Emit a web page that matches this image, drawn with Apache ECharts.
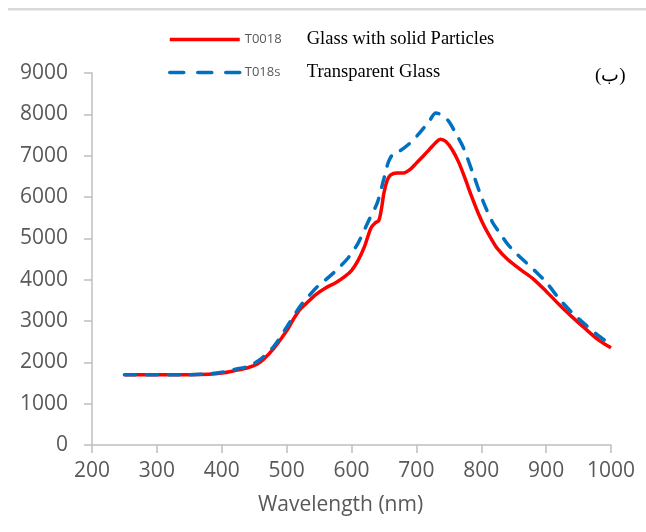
<!DOCTYPE html>
<html>
<head>
<meta charset="utf-8">
<script src="https://cdn.jsdelivr.net/npm/echarts@6/dist/echarts.min.js"></script>
<style>
  html, body { margin: 0; padding: 0; background: #fff; }
  #chart { width: 646px; height: 532px; }
</style>
</head>
<body>
<div id="chart"></div>
<script>
// Emission spectra: wavelength (nm) vs intensity
var wlSolid = [250, 300, 350, 380, 400, 420, 440, 455, 465, 480, 490, 500, 510, 520, 530, 545, 560, 575, 590, 600, 610, 620, 630, 637, 642, 646, 650, 655, 660, 670, 680, 690, 700, 710, 720, 730, 737, 745, 755, 765, 775, 785, 795, 805, 815, 825, 840, 860, 880, 900, 920, 940, 960, 980, 1000];
var valSolid = [1700, 1700, 1700, 1710, 1740, 1800, 1870, 1960, 2080, 2330, 2540, 2760, 3030, 3270, 3420, 3640, 3800, 3920, 4080, 4220, 4460, 4800, 5250, 5380, 5430, 5700, 6100, 6400, 6530, 6580, 6580, 6660, 6820, 6980, 7150, 7320, 7400, 7350, 7150, 6850, 6450, 6020, 5620, 5280, 5000, 4750, 4500, 4250, 4020, 3720, 3400, 3100, 2820, 2550, 2350];

var wlClear = [250, 300, 350, 380, 400, 420, 440, 460, 480, 500, 520, 535, 550, 565, 580, 595, 610, 625, 640, 650, 657, 665, 675, 690, 705, 720, 730, 740, 750, 760, 772, 787, 802, 818, 830, 840, 855, 870, 885, 900, 920, 940, 960, 980, 1000];
var valClear = [1700, 1700, 1700, 1720, 1760, 1830, 1900, 2080, 2380, 2850, 3340, 3620, 3870, 4060, 4280, 4530, 4880, 5380, 5870, 6450, 6850, 7060, 7120, 7300, 7550, 7840, 8030, 7980, 7830, 7560, 7210, 6580, 5930, 5370, 5100, 4870, 4620, 4400, 4180, 3940, 3540, 3200, 2920, 2650, 2430];

var seriesCodes = ['T0018', 'T018s'];
var seriesNames = ['Glass with solid Particles', 'Transparent Glass'];
var xTicks = [200, 1000, 100];
var yTicks = [0, 9000, 1000];

function pairs(xs, ys) {
  return xs.map(function (x, i) { return [x, ys[i]]; });
}

var chart = echarts.init(document.getElementById('chart'), null, { renderer: 'canvas' });
var axisGray = '#BFBFBF';
var labelGray = '#595959';
var plainNumber = function (v) { return String(v); };

chart.setOption({
  backgroundColor: '#fff',
  animation: false,
  grid: { left: 92, right: 35, top: 73, bottom: 87, containLabel: false },
  legend: {
    orient: 'vertical',
    left: 163,
    top: 25,
    itemWidth: 70,
    itemHeight: 20,
    itemGap: 14,
    data: [
      { name: seriesCodes[0] },
      { name: seriesCodes[1], lineStyle: { type: [14, 14] } }
    ],
    itemStyle: { opacity: 0 },
    lineStyle: { width: 3.5 },
    formatter: function (name) {
      var i = seriesCodes.indexOf(name);
      return '{a|' + name + '}{b|' + seriesNames[i] + '}';
    },
    textStyle: {
      rich: {
        a: { fontFamily: 'Open Sans', fontSize: 13, color: labelGray, width: 62 },
        b: { fontFamily: 'Liberation Serif', fontSize: 18.5, color: '#000' }
      }
    }
  },
  xAxis: {
    type: 'value',
    min: xTicks[0], max: xTicks[1], interval: xTicks[2],
    name: 'Wavelength (nm)',
    nameLocation: 'middle',
    nameGap: 50,
    nameTextStyle: { fontFamily: 'Open Sans', fontSize: 21, color: labelGray, padding: [0, 22, 0, 0] },
    axisLine: { lineStyle: { color: axisGray, width: 1.5 } },
    axisTick: { show: true, length: 8, lineStyle: { color: axisGray, width: 1.5 } },
    axisLabel: { margin: 16, fontFamily: 'Open Sans', fontSize: 21, color: labelGray, formatter: plainNumber },
    splitLine: { show: false }
  },
  yAxis: {
    type: 'value',
    min: yTicks[0], max: yTicks[1], interval: yTicks[2],
    axisLine: { show: true, lineStyle: { color: axisGray, width: 1.5 } },
    axisTick: { show: true, length: 8, lineStyle: { color: axisGray, width: 1.5 } },
    axisLabel: { margin: 24, fontFamily: 'Open Sans', fontSize: 21, color: labelGray, formatter: plainNumber },
    splitLine: { show: false }
  },
  graphic: [
    {
      type: 'rect',
      shape: { x: 8, y: 8, width: 646, height: 2.5 },
      style: { fill: '#D9D9D9' },
      silent: true
    },
    {
      type: 'text',
      left: 595, top: 67,
      style: { text: '(ب)', fontFamily: 'Liberation Serif, DejaVu Serif, serif', fontSize: 19, fill: '#000' }
    }
  ],
  series: [
    {
      name: seriesCodes[0],
      type: 'line',
      data: pairs(wlSolid, valSolid),
      smooth: 0.3,
      symbol: 'none',
      z: 2,
      lineStyle: { color: '#FF0000', width: 3.5 },
      itemStyle: { color: '#FF0000' }
    },
    {
      name: seriesCodes[1],
      type: 'line',
      data: pairs(wlClear, valClear),
      smooth: 0.3,
      symbol: 'none',
      z: 3,
      lineStyle: { color: '#0070C0', width: 3.5, type: [11, 11], cap: 'round' },
      itemStyle: { color: '#0070C0' }
    }
  ]
});
</script>
</body>
</html>
